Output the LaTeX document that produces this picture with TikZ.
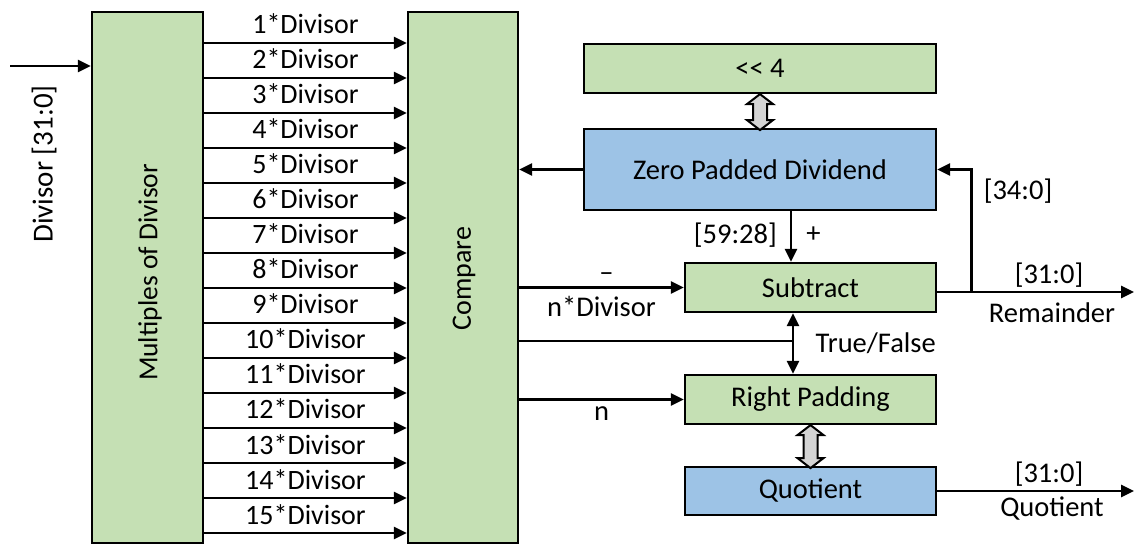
\documentclass[tikz,border=0pt]{standalone}
\usepackage{fontspec}
\setmainfont{Carlito}
\usetikzlibrary{arrows.meta,calc}
\definecolor{boxgreen}{RGB}{197,224,180}
\definecolor{boxblue}{RGB}{157,195,230}
\definecolor{fatgray}{RGB}{212,212,212}
\tikzset{
  blk/.style={draw=black, line width=2.2pt, inner sep=0pt},
  gblk/.style={blk, fill=boxgreen},
  bblk/.style={blk, fill=boxblue},
  arr/.style={line width=2.5pt, -{Triangle[length=13pt,width=12pt]}},
  wire/.style={line width=2.5pt},
  txt/.style={font=\fontsize{28.5pt}{32pt}\selectfont, inner sep=0pt},
  bigtxt/.style={font=\fontsize{28pt}{32pt}\selectfont, inner sep=0pt},
  fatarr/.style={draw=black, line width=2pt, fill=fatgray, line join=miter}
}
\newcommand{\fatdouble}[2]{% vertical double block arrow from #1 (top) of length #2
  \draw[fatarr, shift={#1}] (0,0) -- (13,10) -- (7,10) -- (7,#2-10) -- (13,#2-10) -- (0,#2)
    -- (-13,#2-10) -- (-7,#2-10) -- (-7,10) -- (-13,10) -- cycle;}
\begin{document}
\begin{tikzpicture}[x=1pt,y=-1pt]
\useasboundingbox (0,0) rectangle (1136,545);

% left column: multiples generator and comparator
\node[gblk, minimum width=111pt, minimum height=531pt] (mult) at (147.5,277.5) {};
\node[bigtxt, rotate=90, font=\fontsize{27.5pt}{32pt}\selectfont] (multl) at (150,272.5) {Multiples of Divisor};
\node[gblk, minimum width=110pt, minimum height=531pt] (cmp) at (463,277.5) {};
\node[bigtxt, rotate=90] (cmpl) at (464,278.5) {Compare};

% divisor input
\coordinate (din) at (10,66);
\draw[arr] (din) -- (din -| mult.west);
\node[bigtxt, rotate=90, font=\fontsize{29pt}{32pt}\selectfont] (dinlab) at (44,164) {Divisor [31:0]};

% fifteen multiples
\foreach \i in {1,...,15} {
  \coordinate (m\i) at ($(mult.east |- 0,{43+35*(\i-1)})$);
  \draw[arr] (m\i) -- (m\i -| cmp.west)
    node[bigtxt, midway, anchor=base, yshift=9pt] (ml\i) {\i*Divisor};
}

% right column blocks
\node[gblk, minimum width=352pt, minimum height=49pt, txt] (lsh) at (760,68.5) {<\kern0pt<\ 4};
\node[bblk, minimum width=352pt, minimum height=81pt, txt] (zpd) at (760,169.5) {Zero Padded Dividend};
\node[gblk, minimum width=251pt, minimum height=49pt, txt] (sub) at (810.5,287.5) {Subtract};
\node[gblk, minimum width=251pt, minimum height=49pt, txt] (rp) at (810.5,399.5) {Right Padding};
\node[bblk, minimum width=251pt, minimum height=48pt, txt] (quo) at (810.5,491) {Quotient};

% block arrows between coupled registers
\fatdouble{(lsh.south)}{36}
\fatdouble{(rp.south)}{43}

% dividend to comparator
\draw[arr] (zpd.west) -- (zpd.west -| cmp.east);

% upper dividend bits into subtractor
\coordinate (zd) at ($(zpd.south)+(31,0)$);
\draw[arr] (zd) -- (zd |- sub.north);
\node[txt, anchor=east] (bits) at ($(zd)+(-14,24)$) {[59:28]};
\node[txt] (plus) at ($(zd)+(22.5,24)$) {+};

% selected multiple into subtractor
\draw[arr] (sub.west -| cmp.east) -- (sub.west)
  node[txt, pos=0.53, yshift=10pt] (minus) {--}
  node[txt, pos=0.5, yshift=-19pt] (nd) {n*Divisor};

% subtractor output: feedback and remainder
\coordinate (so) at ($(sub.east)+(0,4.5)$);
\coordinate (jn) at ($(so)+(34.5,0)$);
\draw[wire] (so) -- (jn);
\draw[arr] (jn) -- (jn |- zpd.east) -- (zpd.east);
\node[txt] (fb) at (1018,191) {[34:0]};
\coordinate (rem) at (1134,292);
\draw[arr] (jn) -- (rem);
\node[txt] (remb) at (1049,275) {[31:0]};
\node[txt] (reml) at (1052,313) {Remainder};

% compare result
\coordinate (tf) at ($(sub.south)+(-17.5,28)$);
\draw[wire] (tf -| cmp.east) -- (tf);
\draw[arr] (tf) -- (tf |- sub.south);
\draw[arr] (tf) -- (tf |- rp.north);
\node[txt, anchor=west] (tfl) at ($(tf)+(22.5,2)$) {True/False};

% index n into right padding
\draw[arr] (rp.west -| cmp.east) -- (rp.west)
  node[txt, midway, yshift=-14pt] (nl) {n};

% quotient output
\coordinate (qo) at (1134,491);
\draw[arr] (quo.east) -- (qo);
\node[txt] (qb) at (1049,474) {[31:0]};
\node[txt] (ql) at (1052,509) {Quotient};
\end{tikzpicture}
\end{document}
